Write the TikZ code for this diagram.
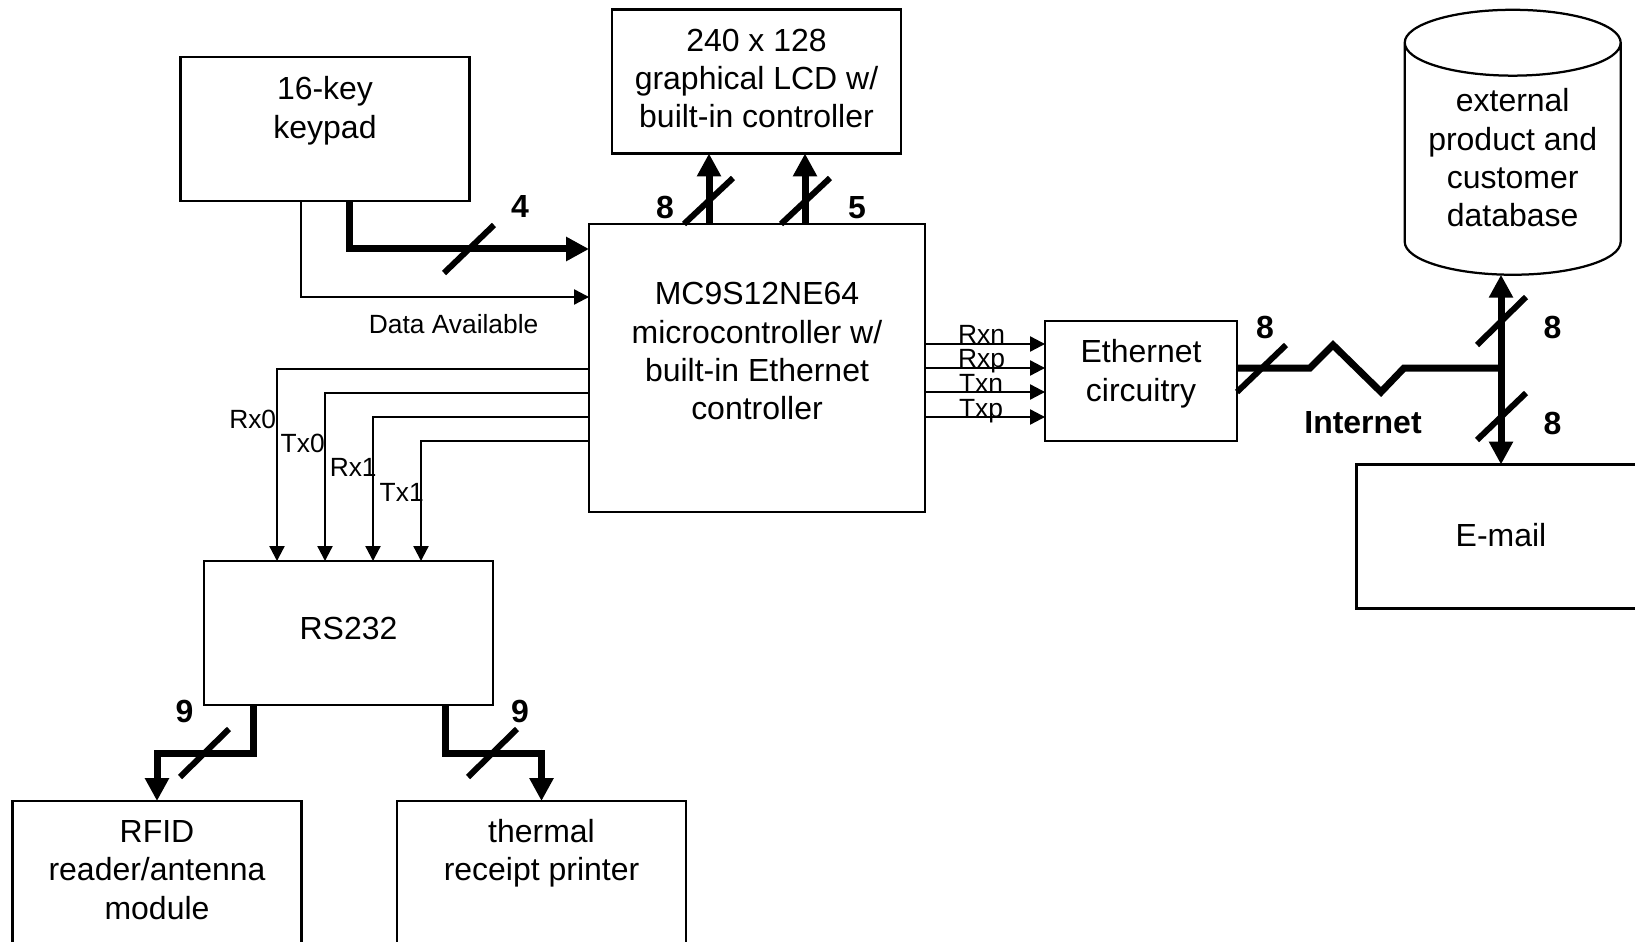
\documentclass[tikz,border=0pt]{standalone}
\usepackage{fontspec}
\setmainfont{Liberation Sans}
\usepackage{tikz}
\usetikzlibrary{arrows.meta,positioning,shapes.geometric}
\tikzset{
  block/.style={draw, rectangle, line width=0.045cm, inner sep=0pt, outer sep=0pt, align=center, minimum width=5.78cm, minimum height=2.88cm, font=\fontsize{18.2}{21.8}\selectfont},
  database/.style={draw, cylinder, shape border rotate=90, aspect=0.39, line width=0.045cm, inner sep=0pt, outer sep=0pt, align=center, minimum width=4.32cm, minimum height=5.3cm, font=\fontsize{18.2}{21.8}\selectfont},
  signal/.style={-{Triangle[length=0.3cm,width=0.3cm]}, line width=0.045cm},
  bus/.style={line width=0.14cm},
  busarrow/.style={-{Triangle[length=0.46cm,width=0.46cm]}, line width=0.14cm},
  busboth/.style={{Triangle[length=0.46cm,width=0.46cm]}-{Triangle[length=0.46cm,width=0.46cm]}, line width=0.14cm},
  slash/.style={line width=0.12cm},
  siglabel/.style={font=\fontsize{15}{18}\selectfont, inner sep=0pt},
  buslabel/.style={font=\bfseries\fontsize{18.2}{21.8}\selectfont, inner sep=0pt}
}
\begin{document}
\begin{tikzpicture}[x=0.02cm,y=-0.02cm]
  \useasboundingbox (0,0) rectangle (1635,942);
  \node[block,text depth=0.1cm] (keypad) at (325,129) {16-key\\keypad\\~};
  \node[block,text depth=0.125cm] (lcd) at (756.5,81.5) {240 x 128\\graphical LCD w/\\built-in controller};
  \node[block,minimum width=6.72cm,minimum height=5.76cm,text depth=0.67cm] (micro) at (757,368) {MC9S12NE64\\microcontroller w/\\built-in Ethernet\\controller};
  \node[block,minimum width=3.84cm,minimum height=2.4cm] (ether) at (1141,381) {Ethernet\\circuitry\\[-0.34cm]~};
  \node[database,text depth=0.06cm] (extdb) at (1512.7,159.3) {external\\product and\\customer\\database};
  \node[block,text depth=0.08cm] (email) at (1501,536.5) {E-mail};
  \node[block,text depth=0.17cm] (rs232) at (348.5,633) {RS232};
  \node[block,text depth=0.125cm] (rfid) at (157,873) {RFID\\reader/antenna\\module};
  \node[block,text depth=0.17cm] (printer) at (541.5,873) {thermal\\receipt printer\\~};
  % keypad to micro
  \coordinate (keybend) at (349,249);
  \coordinate (databend) at (301,297);
  \draw[busarrow] (keybend |- keypad.south) -- (keybend) -- (keybend -| micro.west);
  \draw[signal] (databend |- keypad.south) -- (databend) -- (databend -| micro.west);
  \draw[slash] (444,273) -- (494,225);
  \node[buslabel] (keycount) at (520,207) {4};
  \node[siglabel] (datalabel) at (453.6,324) {Data Available};
  % micro to lcd
  \coordinate (lcddata) at (709,190);
  \coordinate (lcdctrl) at (805,190);
  \draw[busarrow] (lcddata |- micro.north) -- (lcddata |- lcd.south);
  \draw[busarrow] (lcdctrl |- micro.north) -- (lcdctrl |- lcd.south);
  \draw[slash] (684,224) -- (733,178);
  \draw[slash] (781,224) -- (830,178);
  \node[buslabel] (lcddatacount) at (665,207.5) {8};
  \node[buslabel] (lcdctrlcount) at (857,207.5) {5};
  % micro to rs232
  \coordinate (rxa) at (277,369);
  \coordinate (txa) at (325,393);
  \coordinate (rxb) at (373,417);
  \coordinate (txb) at (421,441);
  \draw[signal] (rxa -| micro.west) -- (rxa) -- (rxa |- rs232.north);
  \draw[signal] (txa -| micro.west) -- (txa) -- (txa |- rs232.north);
  \draw[signal] (rxb -| micro.west) -- (rxb) -- (rxb |- rs232.north);
  \draw[signal] (txb -| micro.west) -- (txb) -- (txb |- rs232.north);
  \node[siglabel,anchor=east] (rxalabel) at (276.5,419) {Rx0};
  \node[siglabel,anchor=east] (txalabel) at (325,443) {Tx0};
  \node[siglabel,anchor=east] (rxblabel) at (377,467) {Rx1};
  \node[siglabel,anchor=east] (txblabel) at (424,492) {Tx1};
  % micro to ethernet
  \coordinate (rxn) at (985,344);
  \coordinate (rxp) at (985,368);
  \coordinate (txn) at (985,392);
  \coordinate (txp) at (985,417);
  \draw[signal] (rxn -| micro.east) -- (rxn -| ether.west);
  \draw[signal] (rxp -| micro.east) -- (rxp -| ether.west);
  \draw[signal] (txn -| micro.east) -- (txn -| ether.west);
  \draw[signal] (txp -| micro.east) -- (txp -| ether.west);
  \node[siglabel] (rxnlabel) at (981.5,334.2) {Rxn};
  \node[siglabel] (rxplabel) at (981.5,360.7) {Rxp};
  \node[siglabel] (txnlabel) at (981,383.7) {Txn};
  \node[siglabel] (txplabel) at (981,410.7) {Txp};
  % rs232 outputs
  \coordinate (rfidbend) at (253.5,753);
  \coordinate (printbend) at (445,753);
  \draw[busarrow] (rfidbend |- rs232.south) -- (rfidbend) -- (rfid.north |- rfidbend) -- (rfid.north);
  \draw[busarrow] (printbend |- rs232.south) -- (printbend) -- (printer.north |- printbend) -- (printer.north);
  \draw[slash] (180,777) -- (229,729);
  \draw[slash] (468,777) -- (517,729);
  \node[buslabel] (rfidcount) at (184.6,711) {9};
  \node[buslabel] (printcount) at (520,711) {9};
  % internet link
  \coordinate (netjoin) at (1501,368);
  \draw[bus] (ether.east |- netjoin) -- (1310,368) -- (1333,345) -- (1381,392) -- (1404,368) -- (netjoin);
  \draw[busboth] (netjoin |- extdb.south) -- (netjoin |- email.north);
  \draw[slash] (1237,392) -- (1286,345);
  \draw[slash] (1477,345) -- (1526,297);
  \draw[slash] (1477,440) -- (1526,393);
  \node[buslabel] (ethercount) at (1265,327) {8};
  \node[buslabel] (dbcount) at (1552.6,327) {8};
  \node[buslabel] (emailcount) at (1552.6,423) {8};
  \node[buslabel] (netlabel) at (1363,422.5) {Internet};
\end{tikzpicture}
\end{document}
